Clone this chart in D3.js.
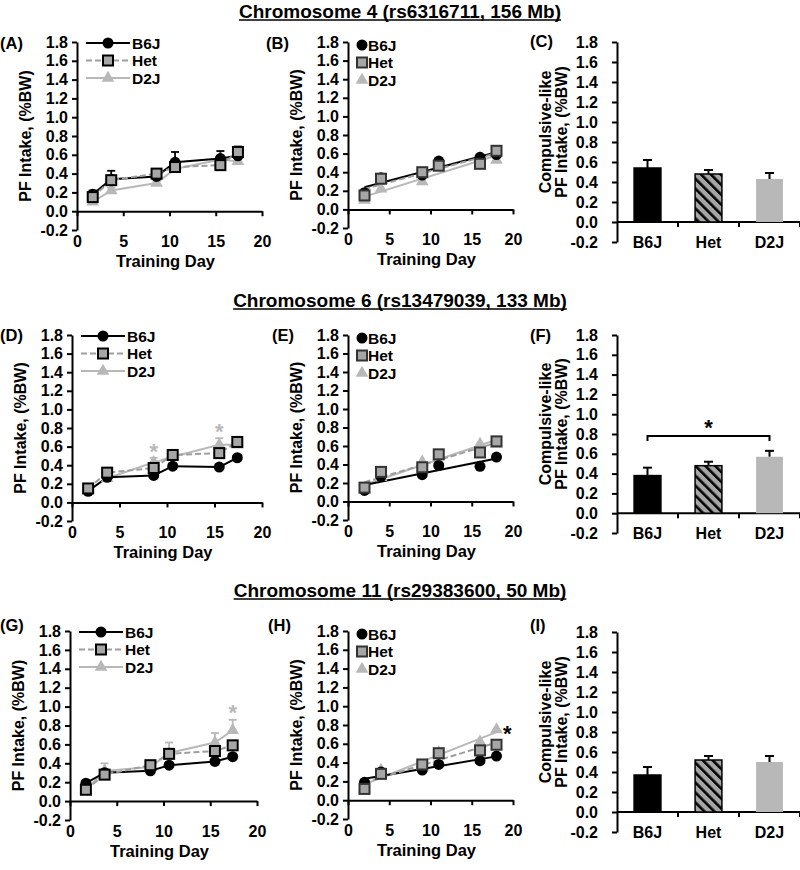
<!DOCTYPE html>
<html>
<head>
<meta charset="utf-8">
<script src="https://cdn.jsdelivr.net/npm/d3@7"></script>
<style>
  body { margin: 0; background: #fff; }
  svg { font-family: 'Liberation Sans', Arial, sans-serif; font-weight: bold; }
  .axis text { font-size: 16px; font-family: 'Liberation Sans', Arial, sans-serif; font-weight: bold; fill: #000; }
  .axis path, .axis line { stroke: #000; stroke-width: 2; }
</style>
</head>
<body>
<svg id="fig" width="800" height="870"></svg>
<script>
const groups = ['B6J', 'Het', 'D2J']
const lineDays = [1.7, 3.7, 8.6, 10.6, 15.5, 17.4]
const fitDays = [2, 4, 9, 11, 16, 18]
const yTicks = [-0.2, 0, 0.2, 0.4, 0.6, 0.8, 1.0, 1.2, 1.4, 1.6, 1.8]
const xTicks = [0, 5, 10, 15, 20]
const titles = [
  'Chromosome 4 (rs6316711, 156 Mb)',
  'Chromosome 6 (rs13479039, 133 Mb)',
  'Chromosome 11 (rs29383600, 50 Mb)'
]

// PF intake per training session, rows are B6J, Het, D2J
const chr4Means = [
  [0.18, 0.34, 0.37, 0.52, 0.56, 0.59],
  [0.15, 0.33, 0.40, 0.47, 0.49, 0.63],
  [0.10, 0.22, 0.30, 0.45, 0.55, 0.53]
]
const chr4Sem = [
  [0.04, 0.09, 0.02, 0.11, 0.08, 0.05],
  [0.03, 0.04, 0.03, 0.03, 0.03, 0.06],
  [0.02, 0.03, 0.02, 0.03, 0.04, 0.03]
]
const chr6Means = [
  [0.12, 0.27, 0.29, 0.39, 0.38, 0.48],
  [0.15, 0.32, 0.37, 0.51, 0.53, 0.65],
  [0.13, 0.26, 0.43, 0.49, 0.62, 0.62]
]
const chr6Sem = [
  [0.02, 0.02, 0.02, 0.03, 0.02, 0.03],
  [0.02, 0.03, 0.04, 0.04, 0.04, 0.04],
  [0.02, 0.02, 0.05, 0.03, 0.07, 0.04]
]
const chr11Means = [
  [0.19, 0.30, 0.32, 0.38, 0.42, 0.47],
  [0.12, 0.28, 0.38, 0.50, 0.53, 0.59],
  [0.12, 0.32, 0.36, 0.51, 0.62, 0.75]
]
const chr11Sem = [
  [0.03, 0.02, 0.02, 0.03, 0.02, 0.03],
  [0.02, 0.03, 0.03, 0.04, 0.03, 0.03],
  [0.02, 0.08, 0.03, 0.11, 0.10, 0.11]
]
// sessions where D2J differs (gray asterisks)
const chr4Stars = []
const chr6Stars = [2, 4]
const chr11Stars = [5]

// compulsive-like intake, B6J / Het / D2J
const chr4Bar = [0.54, 0.48, 0.43]
const chr4BarSem = [0.08, 0.04, 0.06]
const chr6Bar = [0.38, 0.48, 0.57]
const chr6BarSem = [0.08, 0.04, 0.06]
const chr11Bar = [0.37, 0.52, 0.50]
const chr11BarSem = [0.08, 0.04, 0.06]

const BLACK = '#000'
const HETFILL = '#a6a6a6'
const HETLINE = '#9e9e9e'
const D2J = '#b8b8b8'

const svg = d3.select('#fig')

// hatch for Het bars
svg.append('defs').append('pattern')
  .attr('id', 'hatch')
  .attr('patternUnits', 'userSpaceOnUse')
  .attr('width', 7).attr('height', 7)
  .attr('patternTransform', 'rotate(-45)')
  .call(p => {
    p.append('rect').attr('width', 7).attr('height', 7).attr('fill', HETFILL)
    p.append('rect').attr('width', 2.6).attr('height', 7).attr('fill', BLACK)
  })

function marker (g, group, cx, cy, fit) {
  if (group === 0) {
    g.append('circle').attr('cx', cx).attr('cy', cy).attr('r', 5.5).attr('fill', BLACK)
  } else if (group === 1) {
    g.append('rect').attr('x', cx - 5).attr('y', cy - 5).attr('width', 10).attr('height', 10)
      .attr('fill', HETFILL).attr('stroke', fit ? '#333' : BLACK).attr('stroke-width', 2)
  } else {
    g.append('path').attr('d', d3.symbol(d3.symbolTriangle, 70)())
      .attr('transform', `translate(${cx},${cy})`).attr('fill', D2J)
  }
}

const lineColour = i => [BLACK, HETLINE, D2J][i]
const dashFor = i => i === 1 ? '6,3' : null

function yAxis (y, x, pad) {
  svg.append('g').attr('class', 'axis')
    .attr('transform', `translate(${x},0)`)
    .call(d3.axisLeft(y).tickValues(yTicks).tickFormat(d => d.toFixed(1))
      .tickSize(5).tickSizeOuter(0).tickPadding(pad))
}

function yTitle (lines, cx, cy) {
  const t = svg.append('text')
    .attr('transform', `translate(${cx},${cy}) rotate(-90)`)
    .attr('text-anchor', 'middle')
    .attr('font-size', 16)
  lines.forEach((l, i) => {
    t.append('tspan').attr('x', 0).attr('dy', i === 0 ? (lines.length > 1 ? -3 : 6) : 16).text(l)
  })
}

function panelLabel (txt, x, y) {
  svg.append('text').attr('x', x).attr('y', y).attr('dy', '0.35em')
    .attr('font-size', 16.5).text(txt)
}

function linFit (xs, ys) {
  const mx = d3.mean(xs)
  const my = d3.mean(ys)
  const sxy = d3.sum(xs, (v, i) => (v - mx) * (ys[i] - my))
  const sxx = d3.sum(xs, v => (v - mx) * (v - mx))
  const b = sxy / sxx
  return v => my + b * (v - mx)
}

function timePanel (p, means, sems, stars, fit) {
  const x = d3.scaleLinear().domain([0, 20]).range([p.x0, p.x1])
  const y = d3.scaleLinear().domain([-0.2, 1.8]).range([p.yB, p.yT])
  const days = fit ? fitDays : lineDays

  yAxis(y, p.x0, 4)
  const xa = svg.append('g').attr('class', 'axis')
    .attr('transform', `translate(0,${y(0)})`)
    .call(d3.axisBottom(x).tickValues(xTicks).tickSize(5).tickSizeOuter(0))
  xa.selectAll('text').attr('y', y(-0.2) - y(0) + 6)

  svg.append('text').attr('x', (p.x0 + p.x1) / 2 - 4).attr('y', p.yB + 37)
    .attr('text-anchor', 'middle').attr('font-size', 16.5).text('Training Day')
  yTitle(['PF Intake, (%BW)'], p.x0 - 52, (p.yT + p.yB) / 2)

  const g = svg.append('g')
  const order = [2, 0, 1]

  if (fit) {
    order.forEach(k => {
      const f = linFit(fitDays, means[k])
      g.append('line')
        .attr('x1', x(2)).attr('y1', y(f(2)))
        .attr('x2', x(18)).attr('y2', y(f(18)))
        .attr('stroke', lineColour(k)).attr('stroke-width', 2)
        .attr('stroke-dasharray', dashFor(k))
    })
  } else {
    const line = d3.line().x((d, i) => x(days[i])).y(d => y(d))
    order.forEach(k => {
      g.append('path').attr('d', line(means[k])).attr('fill', 'none')
        .attr('stroke', lineColour(k)).attr('stroke-width', 2)
        .attr('stroke-dasharray', dashFor(k))
    })
    // one-sided error bars
    order.forEach(k => {
      means[k].forEach((m, i) => {
        const cx = x(days[i])
        const top = y(m + sems[k][i])
        const col = k === 1 ? '#555' : lineColour(k)
        g.append('line').attr('x1', cx).attr('x2', cx).attr('y1', y(m)).attr('y2', top)
          .attr('stroke', col).attr('stroke-width', 1.8)
        g.append('line').attr('x1', cx - 4).attr('x2', cx + 4).attr('y1', top).attr('y2', top)
          .attr('stroke', col).attr('stroke-width', 1.8)
      })
    })
  }

  order.forEach(k => {
    means[k].forEach((m, i) => marker(g, k, x(days[i]), y(m), fit))
  })

  if (!fit) {
    stars.forEach(i => {
      g.append('text').attr('x', x(days[i])).attr('y', y(means[2][i] + sems[2][i] + 0.12) + 12)
        .attr('text-anchor', 'middle').attr('font-size', 22).attr('fill', D2J).text('*')
    })
  }

  // legend
  groups.forEach((name, k) => {
    const ly = p.yT + (fit ? 3 : 1) + k * 17.5
    if (fit) {
      marker(svg, k, p.x0 + 14, ly, true)
      svg.append('text').attr('x', p.x0 + 20).attr('y', ly).attr('dy', '0.36em')
        .attr('font-size', 15.5).text(name)
    } else {
      svg.append('line').attr('x1', p.x0 + 9).attr('x2', p.x0 + 53).attr('y1', ly).attr('y2', ly)
        .attr('stroke', lineColour(k)).attr('stroke-width', 2).attr('stroke-dasharray', dashFor(k))
      marker(svg, k, p.x0 + 31, ly, false)
      svg.append('text').attr('x', p.x0 + 55).attr('y', ly).attr('dy', '0.36em')
        .attr('font-size', 15.5).text(name)
    }
  })
  return { x, y }
}

function barPanel (p, vals, sems, bracket) {
  const x = d3.scaleBand().domain(groups).range([p.x0, p.x1]).paddingInner(0.56).paddingOuter(0.28)
  const y = d3.scaleLinear().domain([-0.2, 1.8]).range([p.yB, p.yT])

  yAxis(y, p.x0, 14)
  svg.append('line').attr('x1', p.x0).attr('x2', p.x1).attr('y1', y(0)).attr('y2', y(0))
    .attr('stroke', BLACK).attr('stroke-width', 2)
  groups.forEach(gname => {
    const bx = x(gname) + x.bandwidth() / 2 + x.step() / 2
    svg.append('line').attr('x1', bx).attr('x2', bx).attr('y1', y(0)).attr('y2', y(0) + 5)
      .attr('stroke', BLACK).attr('stroke-width', 2)
    svg.append('text').attr('x', x(gname) + x.bandwidth() / 2).attr('y', y(-0.2)).attr('dy', '0.36em')
      .attr('text-anchor', 'middle').attr('font-size', 16).text(gname)
  })

  const fills = [BLACK, 'url(#hatch)', D2J]
  groups.forEach((gname, k) => {
    const bx = x(gname)
    const cx = bx + x.bandwidth() / 2
    const top = y(vals[k] + sems[k])
    svg.append('line').attr('x1', cx).attr('x2', cx).attr('y1', y(vals[k])).attr('y2', top)
      .attr('stroke', BLACK).attr('stroke-width', 2)
    svg.append('line').attr('x1', cx - 4.5).attr('x2', cx + 4.5).attr('y1', top).attr('y2', top)
      .attr('stroke', BLACK).attr('stroke-width', 2)
    svg.append('rect').attr('x', bx).attr('y', y(vals[k]))
      .attr('width', x.bandwidth()).attr('height', y(0) - y(vals[k]))
      .attr('fill', fills[k])
      .attr('stroke', k === 2 ? 'none' : BLACK).attr('stroke-width', 1.5)
  })

  if (bracket) {
    const a = x('B6J') + x.bandwidth() / 2
    const b = x('D2J') + x.bandwidth() / 2
    svg.append('path')
      .attr('d', `M${a},${y(0.73)}V${y(0.78)}H${b}V${y(0.73)}`)
      .attr('fill', 'none').attr('stroke', BLACK).attr('stroke-width', 2)
    svg.append('text').attr('x', x('Het') + x.bandwidth() / 2).attr('y', y(0.91) + 12)
      .attr('text-anchor', 'middle').attr('font-size', 22).text('*')
  }

  yTitle(['Compulsive-like', 'PF Intake, (%BW)'], p.x0 - 63, (p.yT + p.yB) / 2 - 10)
}

function title (txt, cy) {
  const t = svg.append('text').attr('x', 400).attr('y', cy).attr('dy', '0.35em')
    .attr('text-anchor', 'middle').attr('font-size', 19).text(txt)
  const w = t.node().getComputedTextLength()
  svg.append('line').attr('x1', 400 - w / 2).attr('x2', 400 + w / 2)
    .attr('y1', cy + 9).attr('y2', cy + 9).attr('stroke', BLACK).attr('stroke-width', 1.5)
}

// row 1: chromosome 4
title(titles[0], 11)
panelLabel('(A)', 0, 43)
timePanel({ x0: 77, x1: 262, yT: 42, yB: 230 }, chr4Means, chr4Sem, chr4Stars, false)
panelLabel('(B)', 266, 43)
timePanel({ x0: 348, x1: 513, yT: 42, yB: 228 }, chr4Means, chr4Sem, chr4Stars, true)
panelLabel('(C)', 530, 41)
barPanel({ x0: 617, x1: 800, yT: 42, yB: 242 }, chr4Bar, chr4BarSem, false)

// row 2: chromosome 6
title(titles[1], 300)
panelLabel('(D)', 0, 335)
timePanel({ x0: 72, x1: 262, yT: 335, yB: 521 }, chr6Means, chr6Sem, chr6Stars, false)
panelLabel('(E)', 272, 335)
timePanel({ x0: 348, x1: 513, yT: 335, yB: 520 }, chr6Means, chr6Sem, chr6Stars, true)
panelLabel('(F)', 530, 335)
barPanel({ x0: 617, x1: 800, yT: 335, yB: 533 }, chr6Bar, chr6BarSem, true)

// row 3: chromosome 11
title(titles[2], 590)
panelLabel('(G)', 0, 625)
timePanel({ x0: 70, x1: 257, yT: 631, yB: 820 }, chr11Means, chr11Sem, chr11Stars, false)
panelLabel('(H)', 268, 625)
const h = timePanel({ x0: 348, x1: 513, yT: 631, yB: 819 }, chr11Means, chr11Sem, chr11Stars, true)
panelLabel('(I)', 530, 625)
barPanel({ x0: 617, x1: 800, yT: 632, yB: 832 }, chr11Bar, chr11BarSem, false)

// black asterisk next to D2J regression end in (H)
const hFit = linFit(fitDays, chr11Means[2])
svg.append('text').attr('x', h.x(19.3)).attr('y', h.y(hFit(18) + 0.03) + 12)
  .attr('text-anchor', 'middle').attr('font-size', 22).text('*')
</script>
</body>
</html>
